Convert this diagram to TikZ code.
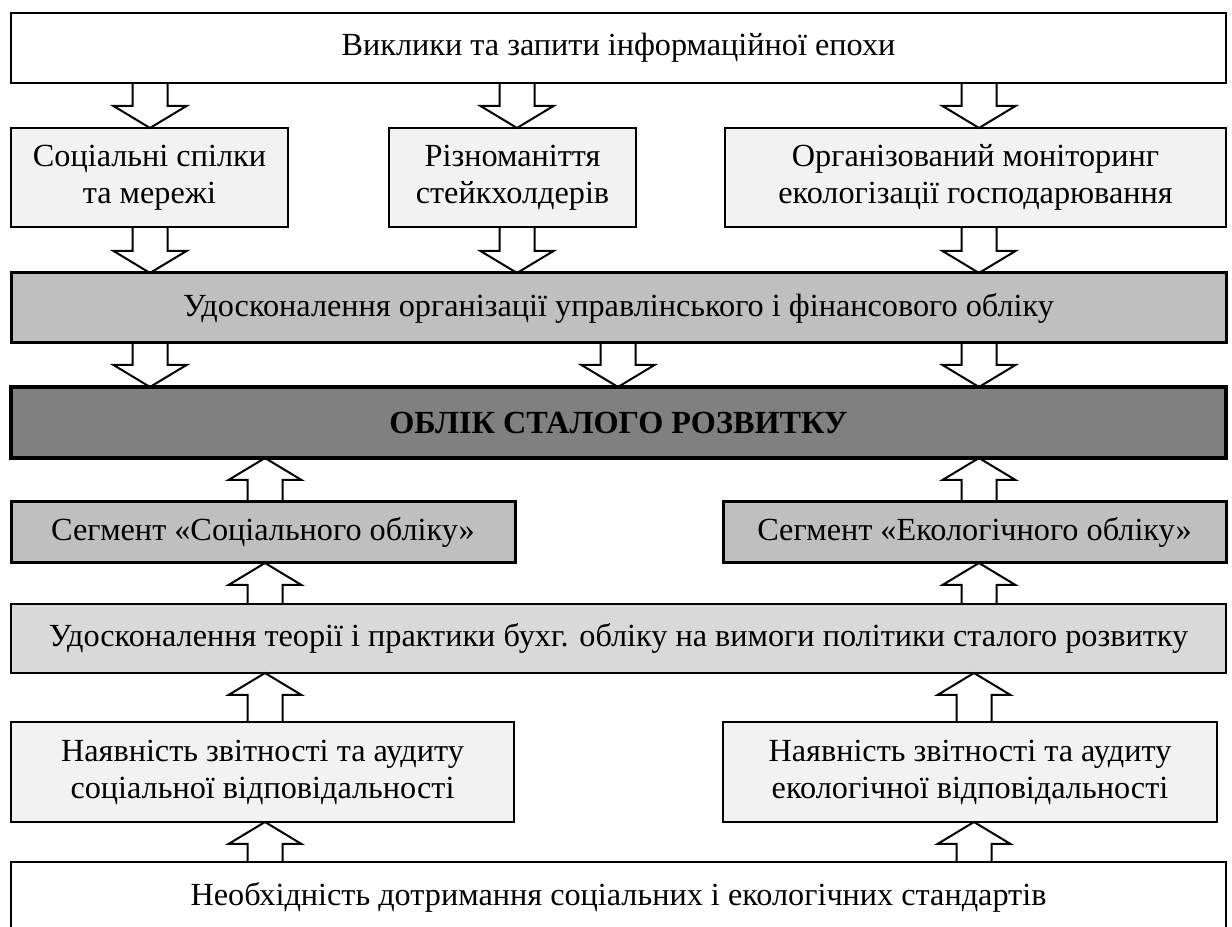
\documentclass[tikz,border=0pt]{standalone}
\usepackage{fontspec}
\setmainfont{Liberation Serif}
\usepackage{tikz}
\usetikzlibrary{positioning, calc}
\definecolor{palegray}{HTML}{F2F2F2}
\definecolor{lightgrey}{HTML}{D9D9D9}
\definecolor{midgray}{HTML}{BFBFBF}
\definecolor{darkgrey}{HTML}{808080}
\tikzstyle{wblock} = [rectangle, draw, line width=0.8pt, fill=white,
align=center, inner sep=2pt, outer sep=0pt, minimum height=28pt]
\tikzstyle{pblock} = [rectangle, draw, line width=0.8pt, fill=palegray,
align=center, inner sep=2pt, outer sep=0pt, minimum height=39.6pt]
\tikzstyle{lgblock} = [rectangle, draw, line width=0.8pt, fill=lightgrey,
align=center, inner sep=2pt, outer sep=0pt, minimum height=27.6pt]
\tikzstyle{mblock} = [rectangle, draw, line width=1.2pt, fill=midgray,
align=center, inner sep=2pt, outer sep=0pt, minimum height=28pt]
\tikzstyle{dblock} = [rectangle, draw, line width=1.6pt, fill=darkgrey,
align=center, inner sep=2pt, outer sep=0pt, minimum height=28.4pt]
\tikzstyle{fatarrow} = [draw, line width=0.8pt, line join=miter]
% hollow block arrows: x position, from node, to node
\newcommand{\fatdown}[3]{%
  \draw[fatarrow] let \p1=(#1,0), \p2=(#2.south), \p3=(#3.north) in
    (\x1-7pt,\y2) -- (\x1-7pt,\y3+8.8pt) -- (\x1-14.6pt,\y3+8.8pt) -- (\x1,\y3)
    -- (\x1+14.6pt,\y3+8.8pt) -- (\x1+7pt,\y3+8.8pt) -- (\x1+7pt,\y2);}
\newcommand{\fatup}[3]{%
  \draw[fatarrow] let \p1=(#1,0), \p2=(#2.north), \p3=(#3.south) in
    (\x1-7pt,\y2) -- (\x1-7pt,\y3-8.8pt) -- (\x1-14.6pt,\y3-8.8pt) -- (\x1,\y3)
    -- (\x1+14.6pt,\y3-8.8pt) -- (\x1+7pt,\y3-8.8pt) -- (\x1+7pt,\y2);}
\begin{document}
\begin{tikzpicture}
                \tikzstyle{every node}=[font=\fontsize{12.9}{14.8}\selectfont]
                \useasboundingbox (0,0) rectangle (492.8pt,-370.8pt);
                \node (vyklyky) [wblock, minimum width=486pt, anchor=north west] at (4.4pt,-5.2pt) {Виклики та запити інформаційної епохи};
                \node (spilky) [pblock, minimum width=110.8pt, below=18pt of vyklyky.south west, anchor=north west] {Соціальні спілки\\та мережі};
                \node (steik) [pblock, minimum width=98.8pt, right=40.4pt of spilky.north east, anchor=north west] {Різноманіття\\стейкхолдерів};
                \node (monit) [pblock, minimum width=200.4pt, below=18pt of vyklyky.south east, anchor=north east] {Організований моніторинг\\екологізації господарювання};
                \node (orgobl) [mblock, minimum width=486pt, below=18.4pt of spilky.south west, anchor=north west] {Удосконалення організації управлінського і фінансового обліку};
                \node (oblik) [dblock, minimum width=486pt, below=17.6pt of orgobl] {\textbf{ОБЛІК СТАЛОГО РОЗВИТКУ}};
                \node (segsoc) [mblock, minimum height=24.4pt, minimum width=201.6pt, below=17.6pt of oblik.south west, anchor=north west] {Сегмент «Соціального обліку»};
                \node (segeco) [mblock, minimum height=24.4pt, minimum width=201.2pt, below=17.6pt of oblik.south east, anchor=north east] {Сегмент «Екологічного обліку»};
                \node (teor) [lgblock, minimum width=486pt, below=16.4pt of segsoc.south west, anchor=north west] {Удосконалення теорії і практики бухг. обліку на вимоги політики сталого розвитку};
                \node (zvsoc) [pblock, minimum height=40pt, minimum width=201.2pt, below=19.6pt of teor.south west, anchor=north west] {Наявність звітності та аудиту\\соціальної відповідальності};
                \node (zveco) [pblock, minimum height=40pt, minimum width=197.6pt, below=19.6pt of teor.south east, anchor=north east, xshift=-3.6pt] {Наявність звітності та аудиту\\екологічної відповідальності};
                \node (neobh) [wblock, minimum width=486pt, below=16pt of zvsoc.south west, anchor=north west] {Необхідність дотримання соціальних і екологічних стандартів};
                \fatdown{60pt}{vyklyky}{spilky}
                \fatdown{206.8pt}{vyklyky}{steik}
                \fatdown{391.6pt}{vyklyky}{monit}
                \fatdown{60pt}{spilky}{orgobl}
                \fatdown{206.8pt}{steik}{orgobl}
                \fatdown{391.6pt}{monit}{orgobl}
                \fatdown{60pt}{orgobl}{oblik}
                \fatdown{247.2pt}{orgobl}{oblik}
                \fatdown{391.6pt}{orgobl}{oblik}
                \fatup{106pt}{segsoc}{oblik}
                \fatup{391.6pt}{segeco}{oblik}
                \fatup{106pt}{teor}{segsoc}
                \fatup{391.6pt}{teor}{segeco}
                \fatup{106pt}{zvsoc}{teor}
                \fatup{389.6pt}{zveco}{teor}
                \fatup{106pt}{neobh}{zvsoc}
                \fatup{389.6pt}{neobh}{zveco}
        \end{tikzpicture}
\end{document}
